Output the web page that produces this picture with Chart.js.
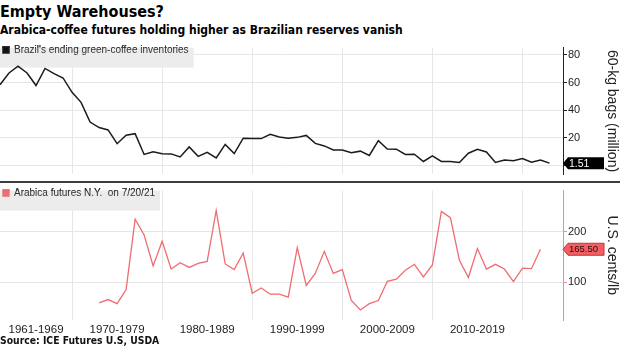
<!DOCTYPE html>
<html><head><meta charset="utf-8">
<script src="https://cdn.jsdelivr.net/npm/chart.js@4.4.1/dist/chart.umd.min.js"></script>
<style>
html,body{margin:0;padding:0;background:#fff;width:620px;height:348px;overflow:hidden;position:relative}
.t{position:absolute;left:0;font-family:"DejaVu Sans Condensed","DejaVu Sans",sans-serif;font-weight:bold;color:#000;white-space:nowrap}
#title{top:3.5px;font-size:16px;line-height:16px}
#sub{top:24px;font-size:12px;line-height:12px}
#src{top:334.5px;font-size:10.3px;line-height:10.3px;color:#111}
#c1{position:absolute;left:0;top:40px}
#c2{position:absolute;left:0;top:183px}
#sep{position:absolute;left:0;top:180.5px;width:620px;height:2.5px;background:#3d3d3d}
</style></head><body>
<div class="t" id="title">Empty Warehouses?</div>
<div class="t" id="sub">Arabica-coffee futures holding higher as Brazilian reserves vanish</div>
<canvas id="c1" width="620" height="142"></canvas>
<canvas id="c2" width="620" height="155"></canvas>
<div id="sep"></div>
<div class="t" id="src">Source: ICE Futures U.S, USDA</div>
<script>
const years = [1961,1962,1963,1964,1965,1966,1967,1968,1969,1970,
  1971,1972,1973,1974,1975,1976,1977,1978,1979,1980,
  1981,1982,1983,1984,1985,1986,1987,1988,1989,1990,
  1991,1992,1993,1994,1995,1996,1997,1998,1999,2000,
  2001,2002,2003,2004,2005,2006,2007,2008,2009,2010,
  2011,2012,2013,2014,2015,2016,2017,2018,2019,2020,
  2021,2022];
const inventory = [58.4,66.9,71.8,66.9,57.8,70.2,66.4,63.3,52.9,45.6,
  31.3,27.3,25.6,15.6,21.8,22.9,7.8,9.8,8.4,8.2,
  6.0,13.3,6.4,9.3,5.3,15.1,8.4,19.6,19.3,19.3,
  22.4,20.4,19.6,20.2,21.6,15.8,14.0,11.1,11.1,9.1,
  10.2,7.1,17.8,11.8,11.6,7.8,8.0,2.7,6.7,2.7,
  2.7,2.0,8.7,11.6,9.6,2.0,3.8,3.3,4.9,2.2,
  3.8,1.51];
const arabica = [null,null,null,null,null,null,null,null,null,null,
  null,58.8,65.6,57.5,85.6,225.0,193.8,132.5,181.3,126.3,
  138.8,129.4,137.5,141.3,242.5,136.3,125.0,158.1,78.1,88.75,
  76.25,76.25,70.6,168.75,93.75,117.5,161.3,117.5,125.0,63.75,
  45.0,57.5,63.75,101.9,106.25,123.75,135.6,110.6,134.4,240.6,
  228.1,143.75,109.4,166.9,126.25,135.6,126.25,101.25,128.1,126.9,
  165.5,null];
const decadeLabels = ['1961-1969','1970-1979','1980-1989','1990-1999','2000-2009','2010-2019'];
const decadeCenters = [1965,1974,1984,1994,2004,2014];
const decadeBounds = [1969,1979,1989,1999,2009,2019];
const inventoryTicks = [0,20,40,60,80];
const arabicaTicks = [100,200];

const FONT = 'Liberation Sans';
const GRID = '#e6e6e6';

function xAxis(showLabels){
  const vals = decadeCenters.concat(decadeBounds).sort((a,b)=>a-b);
  return {
    type:'linear', min:1961, max:2023.5,
    afterBuildTicks: s => { s.ticks = vals.map(v=>({value:v})); },
    grid:{ color: c => (c.tick && decadeBounds.includes(c.tick.value)) ? GRID : 'rgba(0,0,0,0)', drawTicks:false },
    border:{display:false},
    ticks:{ display:showLabels, autoSkip:false, maxRotation:0, minRotation:0, padding:3, color:'#222',
      font:{family:FONT, size:11.5},
      callback: v => { const i = decadeCenters.indexOf(v); return i>=0 ? decadeLabels[i] : ''; } },
    afterFit: s => { s.height = showLabels ? 18 : 0; }
  };
}

const legendBg = {
  id:'legendBg',
  afterLayout(chart){ chart.legend.left = chart.chartArea.left - 2; },
  beforeDatasetsDraw(chart){
    const ctx = chart.ctx, a = chart.chartArea;
    ctx.save();
    ctx.font = '10px "' + FONT + '"';
    const w = ctx.measureText(chart.data.datasets[0].label).width;
    ctx.fillStyle = '#ececec';
    ctx.fillRect(a.left, a.top, w + 19, 20);
    ctx.restore();
    chart.legend.draw();
  }
};

const lastValue = {
  id:'lastValue',
  afterDraw(chart, args, o){
    const ds = chart.data.datasets[0].data;
    let v = null;
    for (let i = ds.length-1; i >= 0; i--) { if (ds[i].y !== null) { v = ds[i].y; break; } }
    const y = chart.scales.y.getPixelForValue(v);
    const x0 = chart.chartArea.right, x1 = 604, h = 6;
    const ctx = chart.ctx;
    ctx.save();
    ctx.beginPath();
    ctx.moveTo(x0, y);
    ctx.lineTo(x0+5, y-h);
    ctx.lineTo(x1, y-h);
    ctx.lineTo(x1, y+h);
    ctx.lineTo(x0+5, y+h);
    ctx.closePath();
    ctx.fillStyle = o.fill; ctx.fill();
    if (o.stroke) { ctx.strokeStyle = o.stroke; ctx.lineWidth = 1; ctx.stroke(); }
    ctx.fillStyle = o.text;
    ctx.font = o.size + 'px "' + FONT + '"';
    ctx.textBaseline = 'middle'; ctx.textAlign = 'left';
    ctx.fillText(v.toFixed(2), x0+6, y+0.5);
    ctx.restore();
  }
};

function yAxis(opts){
  return {
    position:'right', min:opts.min, max:opts.max,
    afterBuildTicks: s => { s.ticks = opts.ticks.map(v=>({value:v})); },
    afterFit: s => { s.width = 57; },
    grid:{ color:GRID, tickColor:opts.axis, tickLength:4, drawTicks:true },
    border:{ color:opts.axis, width:1 },
    ticks:{ padding:1, color:'#222', font:{family:FONT, size:11}, callback: v => v === 0 ? '' : String(v) },
    title:{ display:true, text:opts.title, color:'#222', font:{family:FONT, size:14}, padding:{top:0,bottom:0} }
  };
}

new Chart(document.getElementById('c1'), {
  type:'line',
  data:{ datasets:[{
    label:"Brazil's ending green-coffee inventories",
    data: years.map((y,i)=>({x:y, y:inventory[i]})),
    borderColor:'#1b1b1b', backgroundColor:'#111', borderWidth:1.5,
    pointRadius:0, tension:0 }]},
  options:{
    responsive:false, animation:false, devicePixelRatio:1,
    layout:{ padding:{top:3,bottom:1,left:0,right:0} },
    plugins:{
      legend:{ position:'chartArea', align:'start',
        labels:{ boxWidth:6, boxHeight:6, padding:5, color:'#333', font:{family:FONT, size:10} } },
      tooltip:{ enabled:false },
      lastValue:{ fill:'#000', text:'#fff', size:10.5 }
    },
    scales:{
      x: xAxis(false),
      y: yAxis({ min:-6.67, max:85.33, ticks:inventoryTicks, axis:'#222', title:'60-kg bags (million)' })
    }
  },
  plugins:[legendBg, lastValue]
});

new Chart(document.getElementById('c2'), {
  type:'line',
  data:{ datasets:[{
    label:'Arabica futures N.Y.  on 7/20/21',
    data: years.map((y,i)=>({x:y, y:arabica[i]})),
    borderColor:'#ef6c71', backgroundColor:'#ef6c71', borderWidth:1.3,
    pointRadius:0, tension:0, spanGaps:false }]},
  options:{
    responsive:false, animation:false, devicePixelRatio:1,
    layout:{ padding:{top:0,bottom:0,left:0,right:0} },
    plugins:{
      legend:{ position:'chartArea', align:'start',
        labels:{ boxWidth:6, boxHeight:6, padding:5, color:'#333', font:{family:FONT, size:10} } },
      tooltip:{ enabled:false },
      lastValue:{ fill:'#f25e62', stroke:'#b8383c', text:'#2a0a0a', size:9.5 }
    },
    scales:{
      x: xAxis(true),
      y: yAxis({ min:25, max:282, ticks:arabicaTicks, axis:'#f08c8f', title:'U.S. cents/lb' })
    }
  },
  plugins:[legendBg, lastValue]
});
</script>
</body></html>
